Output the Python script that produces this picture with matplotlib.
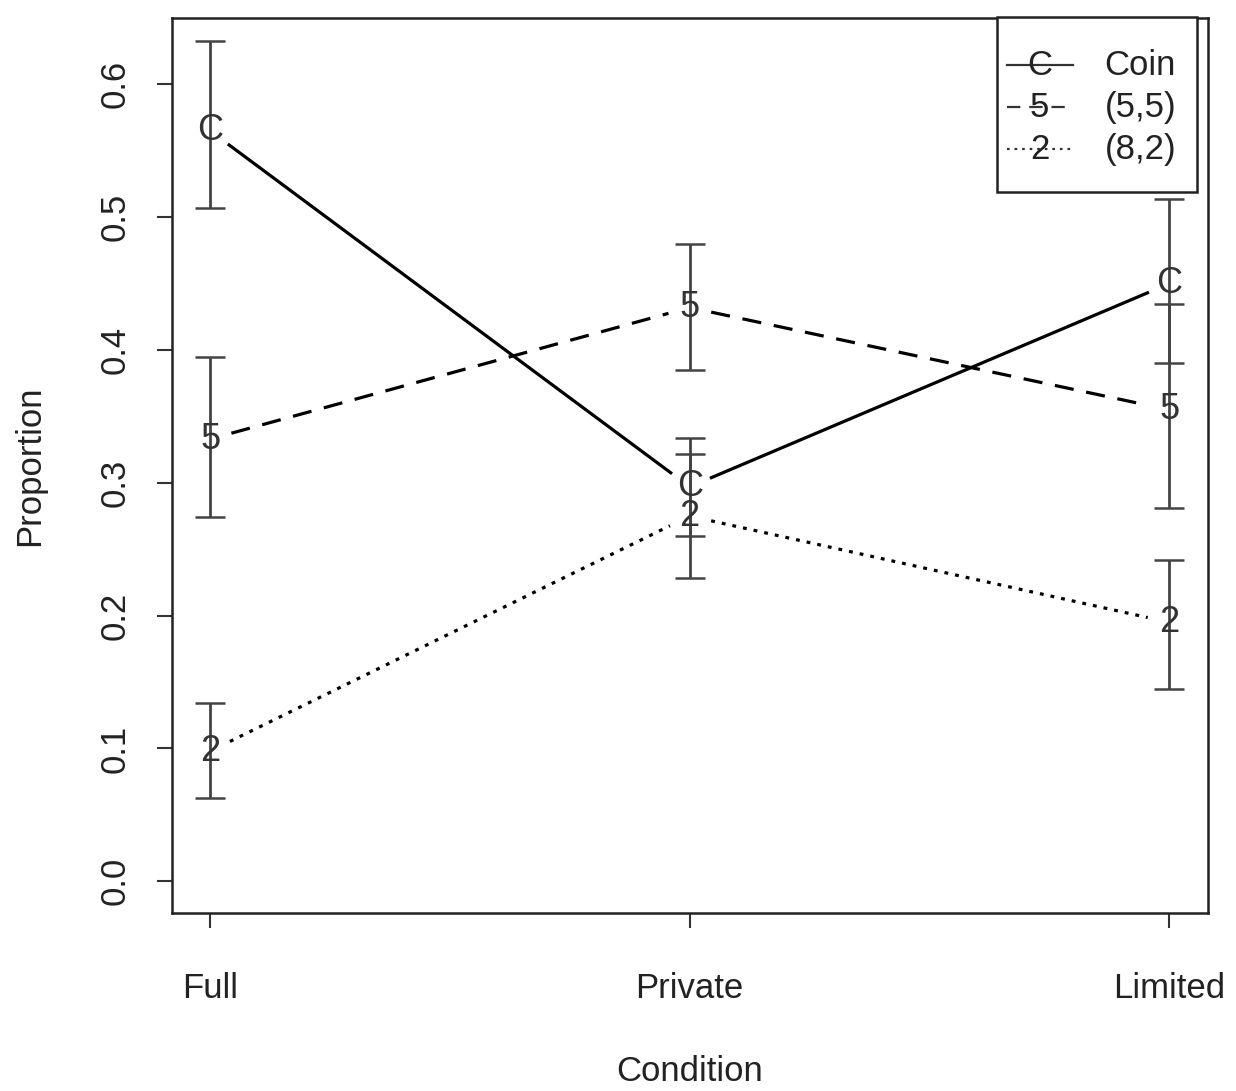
import numpy as np
import matplotlib
matplotlib.use("Agg")
import matplotlib.pyplot as plt

plt.rcParams['font.family'] = ['Liberation Sans', 'DejaVu Sans']

# data
conditions = ["Full", "Private", "Limited"]
series_names = ["Coin", "(5,5)", "(8,2)"]
series_chars = ["C", "5", "2"]
coin = [0.565, 0.297, 0.450]
five = [0.333, 0.432, 0.355]
two = [0.098, 0.275, 0.195]
coin_lo = [0.507, 0.260, 0.390]
coin_hi = [0.633, 0.334, 0.514]
five_lo = [0.274, 0.385, 0.281]
five_hi = [0.395, 0.480, 0.435]
two_lo = [0.063, 0.228, 0.145]
two_hi = [0.134, 0.322, 0.242]

means = [coin, five, two]
lows = [coin_lo, five_lo, two_lo]
highs = [coin_hi, five_hi, two_hi]
styles = ['-', (0, (6, 4)), (0, (1.2, 2.2))]

fig = plt.figure(figsize=(12.36, 10.91), dpi=100)
ax = fig.add_axes([0.139, 0.163, 0.838, 0.8205])
ax.set_xlim(0.92, 3.08)
ax.set_ylim(-0.024, 0.650)
x = np.arange(1, len(conditions) + 1)

fig.canvas.draw()
gap = 22  # pixels of gap round each point, like R type="b"


def gapped_segments(xs, ys):
    pts = ax.transData.transform(np.column_stack([xs, ys]))
    segs = []
    for i in range(len(pts) - 1):
        p0, p1 = pts[i], pts[i + 1]
        d = p1 - p0
        u = d / np.hypot(*d)
        a = ax.transData.inverted().transform(p0 + u * gap)
        b = ax.transData.inverted().transform(p1 - u * gap)
        segs.append((a, b))
    return segs


for m, lo, hi, ch, ls in zip(means, lows, highs, series_chars, styles):
    for a, b in gapped_segments(x, m):
        ax.plot([a[0], b[0]], [a[1], b[1]], color='black', lw=2.3,
                linestyle=ls, solid_capstyle='butt', dash_capstyle='butt')
    for xi, yi in zip(x, m):
        ax.text(xi, yi, ch, fontsize=26, ha='center', va='center', color='#333333')
    yerr = [np.array(m) - np.array(lo), np.array(hi) - np.array(m)]
    ax.errorbar(x, m, yerr=yerr, fmt='none', ecolor='#444444', elinewidth=2,
                capsize=11, capthick=1.8)

ax.set_xticks(x)
ax.set_xticklabels(conditions, fontsize=25, color='#222222')
ax.set_yticks([0.0, 0.1, 0.2, 0.3, 0.4, 0.5, 0.6])
ax.set_yticklabels(["0.0", "0.1", "0.2", "0.3", "0.4", "0.5", "0.6"], fontsize=25,
                   rotation=90, va='center', color='#222222')
ax.tick_params(direction='out', length=11, width=1.5, color='#333333')
ax.tick_params(axis='x', pad=31)
ax.tick_params(axis='y', pad=18)
for s in ax.spines.values():
    s.set_linewidth(1.8)
    s.set_color('#222222')
ax.set_xlabel("Condition", fontsize=25, labelpad=36, color='#222222')
ax.set_ylabel("Proportion", fontsize=25, labelpad=38, color='#222222')

# legend box drawn like R's legend()
lx0, lx1 = (997 - 172) / 1036, (1197 - 172) / 1036
ly1, ly0 = 1 - (17 - 18) / 895, 1 - (192 - 18) / 895
ax.add_patch(plt.Rectangle((lx0, ly0), lx1 - lx0, ly1 - ly0, transform=ax.transAxes,
                           fill=True, facecolor='white', edgecolor='#222222', lw=1.8,
                           zorder=5, clip_on=False))
row_y = [1 - (65 - 18) / 895, 1 - (107 - 18) / 895, 1 - (149 - 18) / 895]
seg_x0, seg_x1 = (1007 - 172) / 1036, (1073 - 172) / 1036
lab_x = (1105 - 172) / 1036
for ry, name, ch, ls in zip(row_y, series_names, series_chars, styles):
    ax.plot([seg_x0, seg_x1], [ry, ry], transform=ax.transAxes, color='#333333',
            lw=1.6, linestyle=ls, zorder=6, clip_on=False)
    ax.text((seg_x0 + seg_x1) / 2, ry, ch, transform=ax.transAxes, fontsize=25,
            ha='center', va='center', color='#222222', zorder=7)
    ax.text(lab_x, ry, name, transform=ax.transAxes, fontsize=25,
            ha='left', va='center', color='#222222', zorder=7)

fig.savefig("out.png", dpi=100)
